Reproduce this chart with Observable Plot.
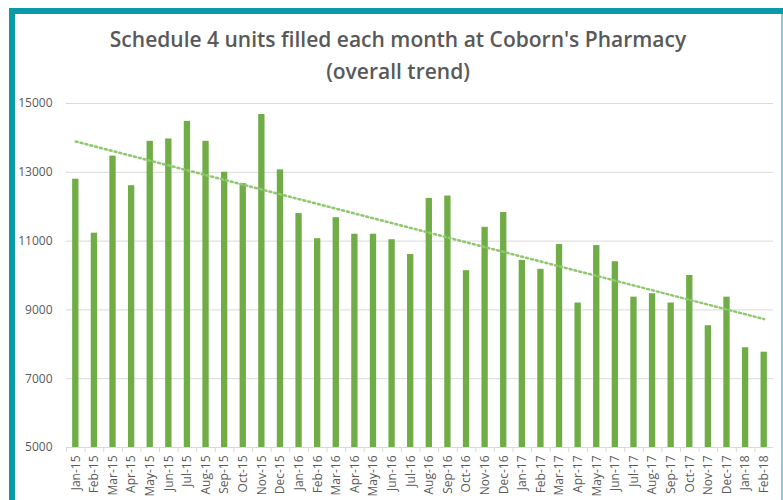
<!DOCTYPE html>
<html>
<head>
<meta charset="utf-8">
<script src="https://cdn.jsdelivr.net/npm/d3@7"></script>
<script src="https://cdn.jsdelivr.net/npm/@observablehq/plot@0.6"></script>
<style>
  html, body { margin: 0; padding: 0; background: #fff; }
  #frame { position: relative; width: 783px; height: 500px; overflow: hidden; background: #fff; }
  .bl { position: absolute; left: 9px; top: 8px; width: 6px; height: 492px; background: #0b9aa8; }
  .bt { position: absolute; left: 9px; top: 8px; width: 774px; height: 6px; background: #0b9aa8; }
  .br { position: absolute; left: 781px; top: 14px; width: 2px; height: 486px; background: #7fd0d8; }
  #title { position: absolute; left: 15px; width: 766px; top: 23px; text-align: center;
           font-family: "Open Sans", sans-serif; font-weight: 600; font-size: 21px; line-height: 32px; color: #595959; }
  #chart { position: absolute; left: 0; top: 88px; }
</style>
</head>
<body>
<div id="frame">
  <div class="bl"></div><div class="bt"></div><div class="br"></div>
  <div id="title">Schedule 4 units filled each month at Coborn's Pharmacy<br>(overall trend)</div>
  <div id="chart"></div>
</div>
<script>
const months = ["Jan-15","Feb-15","Mar-15","Apr-15","May-15","Jun-15","Jul-15","Aug-15","Sep-15","Oct-15","Nov-15","Dec-15",
  "Jan-16","Feb-16","Mar-16","Apr-16","May-16","Jun-16","Jul-16","Aug-16","Sep-16","Oct-16","Nov-16","Dec-16",
  "Jan-17","Feb-17","Mar-17","Apr-17","May-17","Jun-17","Jul-17","Aug-17","Sep-17","Oct-17","Nov-17","Dec-17",
  "Jan-18","Feb-18"];
const units = [12800,11230,13470,12610,13900,13970,14480,13900,13000,12670,14680,13070,
  11800,11070,11680,11200,11200,11040,10610,12240,12310,10140,11400,11830,
  10440,10180,10900,9200,10870,10400,9370,9470,9200,10000,8540,9370,
  7900,7770];
const yTicks = [5000,7000,9000,11000,13000,15000];

const data = months.map((m, i) => ({month: m, i, units: units[i]}));
// least-squares linear trend (as Excel's linear trendline)
const mx = d3.mean(data, d => d.i), my = d3.mean(data, d => d.units);
const slope = d3.sum(data, d => (d.i - mx) * (d.units - my)) / d3.sum(data, d => (d.i - mx) ** 2);
const trend = data.map(d => ({month: d.month, value: my + slope * (d.i - mx)}));

const W = 783, marginLeft = 66, marginRight = 10;
const step = (W - marginLeft - marginRight) / months.length;

const chart = Plot.plot({
  width: W,
  height: 412,
  marginTop: 15,
  marginBottom: 53,
  marginLeft,
  marginRight,
  style: {fontFamily: "'Open Sans', sans-serif", fontSize: "11px", color: "#595959", background: "transparent"},
  x: {domain: months, paddingInner: 0.66, paddingOuter: 0.33, round: false, label: null},
  y: {domain: [5000, 15000], ticks: yTicks, label: null},
  marks: [
    Plot.gridY(yTicks, {stroke: "#d9d9d9", strokeOpacity: 1, strokeWidth: 1}),
    Plot.barY(data, {x: "month", y1: 5000, y2: "units", fill: "#70ad47"}),
    Plot.ruleY([5000], {stroke: "#d9d9d9", strokeWidth: 1}),
    Plot.line(trend, {x: "month", y: "value", stroke: "#8fc86f", strokeWidth: 2.5, strokeDasharray: "2,3"}),
    Plot.axisY(yTicks, {tickSize: 0, tickPadding: 14, fill: "#595959", fontSize: 12, tickFormat: d => String(d)}),
    Plot.axisX({tickSize: 5, tickFormat: () => "", stroke: "#d9d9d9", dx: -step / 2}),
    Plot.axisX({tickSize: 0, tickPadding: 8, tickRotate: -90, fill: "#595959", fontSize: 12})
  ]
});
document.getElementById("chart").appendChild(chart);
</script>
</body>
</html>
